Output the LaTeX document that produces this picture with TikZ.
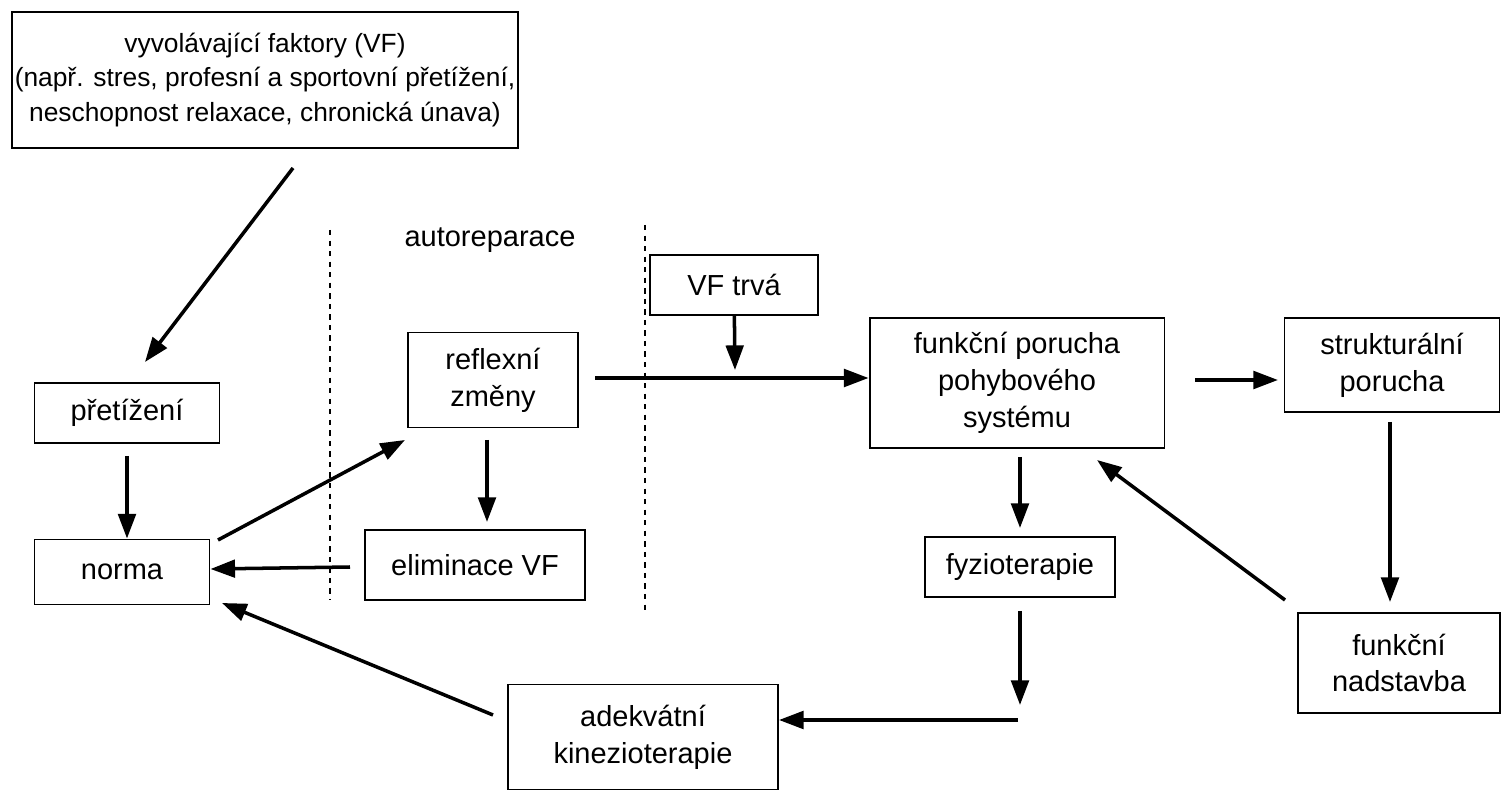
\documentclass[tikz,border=0pt]{standalone}
\usepackage{fontspec}
\setmainfont{Liberation Sans}
\usetikzlibrary{arrows.meta,positioning}
\begin{document}
\begin{tikzpicture}[x=0.02cm,y=-0.02cm,
        box/.style={rectangle, draw, line width=1.1pt, align=center, inner sep=0pt, font=\fontsize{16.5}{21}\selectfont},
        arrow/.style={-{Triangle[length=14pt,width=10pt]}, line width=2pt},
        sep/.style={dashed, line width=0.6pt}
    ]
        \useasboundingbox (0,0) rectangle (1512,800);
        % top
        \node[box, minimum width=10.12cm, minimum height=2.72cm, font=\fontsize{15}{19.5}\selectfont] (vf) at (265,80) {vyvolávající faktory (VF)\\(např. stres, profesní a sportovní přetížení,\\neschopnost relaxace, chronická únava)};

        % left column
        \node[box, minimum width=3.7cm, minimum height=1.2cm] (pret) at (127,413) {přetížení};
        \node[box, minimum width=3.5cm, minimum height=1.3cm] (norma) at (122,572) {norma};

        % autoreparace
        \node[font=\fontsize{16.5}{21}\selectfont] (auto) at (490,240) {autoreparace};
        \node[box, minimum width=3.4cm, minimum height=1.9cm] (refl) at (493,380) {reflexní\\změny};
        \node[box, minimum width=4.4cm, minimum height=1.4cm] (elim) at (475,565) {eliminace VF};
        \coordinate (s1a) at (330,230);
        \coordinate (s1b) at (330,600);
        \coordinate (s2a) at (645,225);
        \coordinate (s2b) at (645,610);
        \draw[sep] (s1a) -- (s1b);
        \draw[sep] (s2a) -- (s2b);

        % right part
        \node[box, minimum width=3.36cm, minimum height=1.2cm] (trva) at (734,285) {VF trvá};
        \node[box, minimum width=5.9cm, minimum height=2.6cm] (fp) at (1017,383) {funkční porucha\\pohybového\\systému};
        \node[box, minimum width=4.3cm, minimum height=1.88cm] (sp) at (1392,365) {strukturální\\porucha};
        \node[box, minimum width=3.8cm, minimum height=1.2cm] (fyz) at (1020,567) {fyzioterapie};
        \node[box, minimum width=4.04cm, minimum height=2cm] (nad) at (1399,663) {funkční\\nadstavba};
        \node[box, minimum width=5.4cm, minimum height=2.1cm] (kin) at (643,737) {adekvátní\\kinezioterapie};

        \coordinate (mid) at (735,370);
        \coordinate (fyzd) at (1020,705);
        \coordinate (fyzl) at (1018,720);

        \draw[arrow] (293,168) -- (145,362);
        \draw[arrow] (pret.south) ++(0,12) -- (pret.south|-norma.north);
        \draw[arrow] (218,540) -- (405,440);
        \draw[arrow] (487,440) -- (487,522);
        \draw[arrow] (350,567) -- (norma.east|-0,569);
        \draw[arrow] (595,378) -- (fp.west|-0,378);
        \draw[arrow] (trva) -- (mid);
        \draw[arrow] (fp.south-|1020,0) ++(0,8) -- (1020,528);
        \draw[arrow] (fyz.south) ++(0,13) -- (fyzd);
        \draw[arrow] (fyzl) -- (kin.east|-fyzl);
        \draw[arrow] (493,715) -- (222,603);
        \draw[arrow] (1195,380) -- (1278,380);
        \draw[arrow] (1390,422) -- (1390,602);
        \draw[arrow] (1285,600) -- (1097,460);
    \end{tikzpicture}
\end{document}
